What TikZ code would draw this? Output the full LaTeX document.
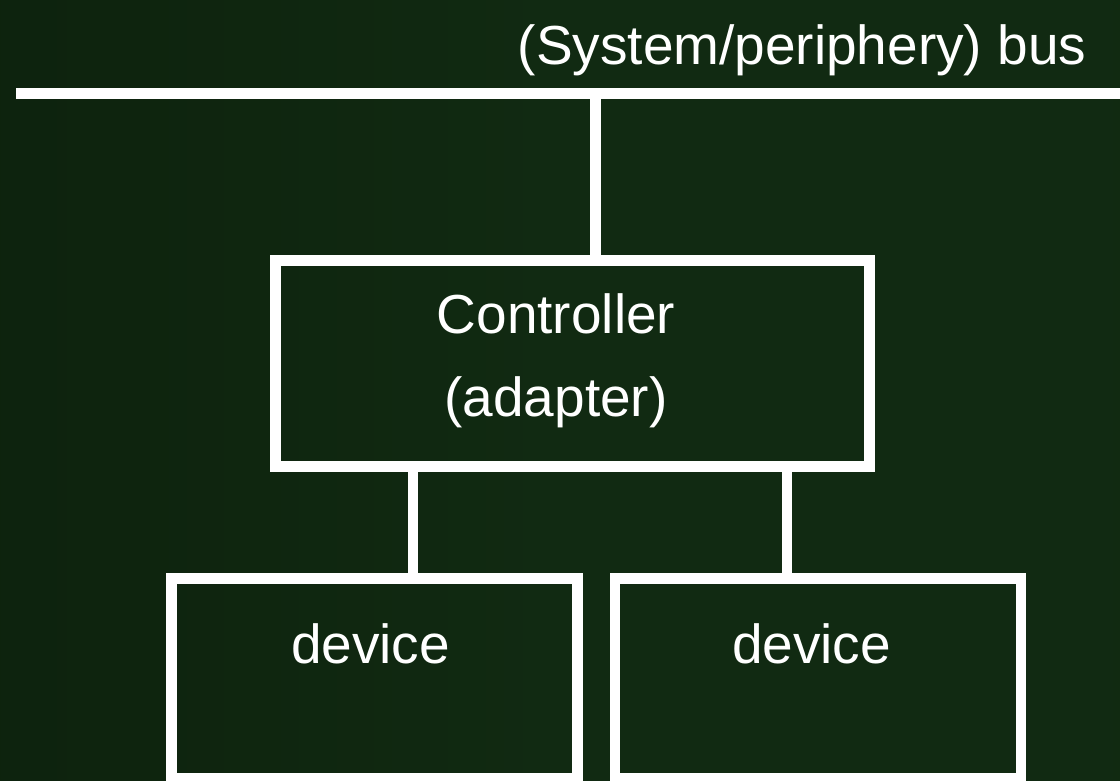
\documentclass[tikz,border=0pt]{standalone}
\usepackage{fontspec}
\setmainfont{Liberation Sans}
\definecolor{bgA}{HTML}{091B12}
\definecolor{bgB}{HTML}{0A1F0C}
\definecolor{bgC}{HTML}{0E240E}
\definecolor{bgD}{HTML}{112A12}
\definecolor{bgE}{HTML}{10280F}
\definecolor{bgF}{HTML}{0A1E0B}
\pgfdeclarehorizontalshading{bgshade}{100bp}{color(0bp)=(bgA); color(10bp)=(bgB); color(30bp)=(bgC); color(50bp)=(bgD); color(72bp)=(bgD); color(88bp)=(bgE); color(100bp)=(bgF)}
\tikzset{
  wire/.style={draw=white, line width=10.6pt, line cap=butt},
  boxnode/.style={draw=white, line width=10.6pt, rectangle, inner sep=0pt, outer sep=0pt},
  lbl/.style={text=white, font=\fontsize{55}{66}\selectfont, anchor=base, inner sep=0pt}
}
\begin{document}
\begin{tikzpicture}[x=1pt, y=-1pt]
  \useasboundingbox (0,0) rectangle (1120,780);
  \shade[shading=bgshade] (0,0) rectangle (1120,780);
  \clip (0,0) rectangle (1120,780);
  % bus
  \coordinate (busL) at (16,93.2);
  \coordinate (busR) at (1126,93.2);
  \draw[wire] (busL) -- (busR);
  \node[lbl] (buslbl) at (802,64) {(System/periphery) bus};
  % controller
  \node[boxnode, minimum width=594.4pt, minimum height=206pt] (ctrl) at (572.5,363.5) {};
  \node[lbl] (ctrl1) at (556,333) {Controller};
  \node[lbl] (ctrl2) at (556,416) {(adapter)};
  % devices
  \node[boxnode, minimum width=406pt, minimum height=200pt] (devL) at (374.5,678.5) {};
  \node[boxnode, minimum width=406pt, minimum height=200pt] (devR) at (818,678.5) {};
  \node[lbl] (devLt) at (370.5,663) {device};
  \node[lbl] (devRt) at (811.5,663) {device};
  % connectors
  \coordinate (tap) at (595.3,93.2);
  \draw[wire] (tap) -- (tap |- ctrl.north);
  \coordinate (cL) at (413,466.5);
  \coordinate (cR) at (787,466.5);
  \draw[wire] (cL) -- (cL |- devL.north);
  \draw[wire] (cR) -- (cR |- devR.north);
\end{tikzpicture}
\end{document}
